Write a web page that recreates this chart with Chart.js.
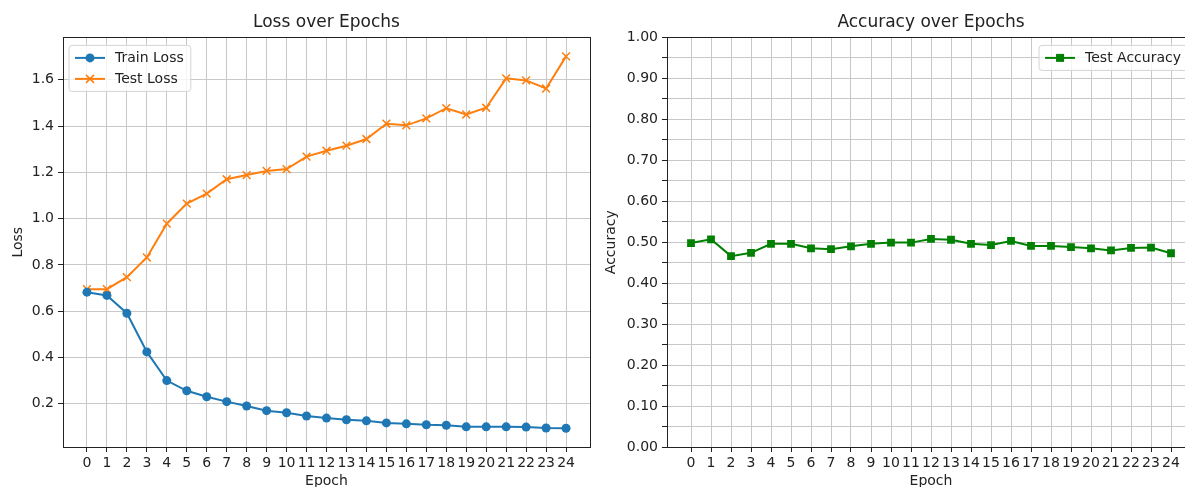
<!DOCTYPE html>
<html>
<head>
<meta charset="utf-8">
<script src="https://cdn.jsdelivr.net/npm/chart.js@4.4.1/dist/chart.umd.min.js"></script>
<style>
  html, body { margin: 0; padding: 0; background: #fff; overflow: hidden; width: 1185px; height: 487px; }
  .pane { position: absolute; top: 0; height: 487px; overflow: hidden; }
  #lossPane { left: 0; width: 600px; }
  #accPane { left: 600px; width: 585px; }
  canvas { display: block; }
</style>
</head>
<body>
<div class="pane" id="lossPane"><canvas id="lossCanvas" width="600" height="495"></canvas></div>
<div class="pane" id="accPane"><canvas id="accCanvas" width="605" height="495"></canvas></div>
<script>
// values
const epochs = [0, 1, 2, 3, 4, 5, 6, 7, 8, 9, 10, 11, 12, 13, 14, 15, 16, 17, 18, 19, 20, 21, 22, 23, 24];
const trainLoss = [0.682, 0.668, 0.591, 0.424, 0.300, 0.256, 0.230, 0.209, 0.190, 0.170, 0.161, 0.147, 0.138, 0.131, 0.126, 0.117, 0.113, 0.109, 0.107, 0.100, 0.100, 0.100, 0.099, 0.095, 0.094];
const testLoss = [0.695, 0.695, 0.747, 0.832, 0.978, 1.065, 1.108, 1.170, 1.188, 1.206, 1.214, 1.268, 1.293, 1.315, 1.344, 1.410, 1.403, 1.433, 1.477, 1.450, 1.479, 1.606, 1.597, 1.562, 1.701];
const testAcc = [0.498, 0.507, 0.466, 0.474, 0.496, 0.496, 0.485, 0.483, 0.490, 0.496, 0.499, 0.499, 0.508, 0.506, 0.496, 0.493, 0.503, 0.491, 0.491, 0.488, 0.485, 0.480, 0.486, 0.487, 0.473];
const lossTicks = [0.2, 0.4, 0.6, 0.8, 1.0, 1.2, 1.4, 1.6];
const accMajorTicks = [0.0, 0.1, 0.2, 0.3, 0.4, 0.5, 0.6, 0.7, 0.8, 0.9, 1.0];
const accMinorTicks = [0.05, 0.15, 0.25, 0.35, 0.45, 0.55, 0.65, 0.75, 0.85, 0.95];

Chart.defaults.font.family = '"DejaVu Sans", sans-serif';
Chart.defaults.font.size = 14;
Chart.defaults.color = '#222';

const GRID = '#c8c8c8';
const INK = '#222';

function pts(vals) {
  return epochs.map((e, i) => ({ x: e, y: vals[i] }));
}

// matplotlib-like box around the plot
const frame = {
  id: 'frame',
  afterDraw(chart) {
    const { ctx, chartArea: a } = chart;
    ctx.save();
    ctx.strokeStyle = INK;
    ctx.lineWidth = 1;
    ctx.strokeRect(Math.round(a.left) + 0.5, Math.round(a.top) + 0.5,
      Math.round(a.right - a.left), Math.round(a.bottom - a.top));
    ctx.restore();
  }
};

// legend with line through the marker, inside the plot
const boxLegend = {
  id: 'boxLegend',
  afterDraw(chart, args, opts) {
    const { ctx, chartArea } = chart;
    const sets = chart.data.datasets;
    ctx.save();
    ctx.font = '14px "DejaVu Sans"';
    const textW = Math.max(...sets.map(d => ctx.measureText(d.label).width));
    const w = 6 + 30 + 10 + textW + 7;
    const h = 25 + 21 * (sets.length - 1);
    const x = opts.side === 'right' ? chartArea.right - 7 - w : chartArea.left + 6;
    const y = chartArea.top + 8;
    ctx.beginPath();
    ctx.roundRect(x, y, w, h, 3);
    ctx.fillStyle = 'rgba(255,255,255,0.8)';
    ctx.fill();
    ctx.strokeStyle = '#d4d4d4';
    ctx.lineWidth = 1;
    ctx.stroke();
    sets.forEach((d, i) => {
      const cy = y + 12.5 + 21 * i;
      const x0 = x + 6;
      const mx = x0 + 15;
      ctx.strokeStyle = d.borderColor;
      ctx.fillStyle = d.borderColor;
      ctx.lineWidth = 2;
      ctx.beginPath();
      ctx.moveTo(x0, cy);
      ctx.lineTo(x0 + 30, cy);
      ctx.stroke();
      if (d.pointStyle === 'circle') {
        ctx.beginPath();
        ctx.arc(mx, cy, 4.5, 0, Math.PI * 2);
        ctx.fill();
      } else if (d.pointStyle === 'crossRot') {
        ctx.lineWidth = 1.5;
        ctx.beginPath();
        ctx.moveTo(mx - 4, cy - 4); ctx.lineTo(mx + 4, cy + 4);
        ctx.moveTo(mx - 4, cy + 4); ctx.lineTo(mx + 4, cy - 4);
        ctx.stroke();
      } else if (d.pointStyle === 'rect') {
        ctx.fillRect(mx - 4, cy - 4, 8, 8);
      }
      ctx.fillStyle = INK;
      ctx.textBaseline = 'middle';
      ctx.textAlign = 'left';
      ctx.fillText(d.label, x0 + 40, cy);
    });
    ctx.restore();
  }
};

function xAxis() {
  return {
    type: 'linear',
    min: -1.2,
    max: 25.2,
    afterBuildTicks: s => { s.ticks = epochs.map(v => ({ value: v })); },
    afterFit: s => { s.height = 48; },
    grid: { color: GRID, lineWidth: 1, drawTicks: true, tickLength: 5, tickColor: INK, tickWidth: 1 },
    border: { display: false },
    ticks: { autoSkip: false, maxRotation: 0, minRotation: 0, padding: 3, callback: v => String(v) },
    title: { display: true, text: 'Epoch', font: { size: 14 }, padding: { top: 0, bottom: 5 } }
  };
}

new Chart(document.getElementById('lossCanvas'), {
  type: 'line',
  data: {
    datasets: [
      {
        label: 'Train Loss',
        data: pts(trainLoss),
        borderColor: '#1f77b4',
        backgroundColor: '#1f77b4',
        borderWidth: 2,
        pointStyle: 'circle',
        pointRadius: 4.5,
        pointBorderWidth: 0,
        tension: 0
      },
      {
        label: 'Test Loss',
        data: pts(testLoss),
        borderColor: '#ff7f0e',
        backgroundColor: '#ff7f0e',
        borderWidth: 2,
        pointStyle: 'crossRot',
        pointRadius: 5.5,
        pointBorderWidth: 1.5,
        tension: 0
      }
    ]
  },
  options: {
    responsive: false,
    devicePixelRatio: 1,
    animation: false,
    layout: { padding: { left: 0, right: 10, top: 0, bottom: 0 } },
    plugins: {
      legend: { display: false },
      tooltip: { enabled: false },
      title: {
        display: true, text: 'Loss over Epochs', fullSize: false, color: INK,
        font: { size: 17, weight: 'normal' }, padding: { top: 12, bottom: 5 }
      },
      boxLegend: { side: 'left' }
    },
    scales: {
      x: xAxis(),
      y: {
        type: 'linear',
        min: 0.013,
        max: 1.783,
        afterBuildTicks: s => { s.ticks = lossTicks.map(v => ({ value: v })); },
        afterFit: s => { s.width = 63; },
        grid: { color: GRID, lineWidth: 1, drawTicks: true, tickLength: 5, tickColor: INK, tickWidth: 1 },
        border: { display: false },
        ticks: { padding: 4, callback: v => v.toFixed(1) },
        title: { display: true, text: 'Loss', font: { size: 14 }, padding: { top: 10, bottom: 0 } }
      }
    }
  },
  plugins: [frame, boxLegend]
});

new Chart(document.getElementById('accCanvas'), {
  type: 'line',
  data: {
    datasets: [
      {
        label: 'Test Accuracy',
        data: pts(testAcc),
        borderColor: '#008000',
        backgroundColor: '#008000',
        borderWidth: 2,
        pointStyle: 'rect',
        pointRadius: 5.5,
        pointBorderWidth: 0,
        tension: 0
      }
    ]
  },
  options: {
    responsive: false,
    devicePixelRatio: 1,
    animation: false,
    layout: { padding: { left: 0, right: 10, top: 0, bottom: 0 } },
    plugins: {
      legend: { display: false },
      tooltip: { enabled: false },
      title: {
        display: true, text: 'Accuracy over Epochs', fullSize: false, color: INK,
        font: { size: 17, weight: 'normal' }, padding: { top: 12, bottom: 5 }
      },
      boxLegend: { side: 'right' }
    },
    scales: {
      x: xAxis(),
      y: {
        type: 'linear',
        min: 0,
        max: 1,
        afterBuildTicks: s => {
          s.ticks = accMajorTicks.concat(accMinorTicks).sort((a, b) => a - b).map(v => ({ value: v }));
        },
        afterFit: s => { s.width = 67; },
        grid: { color: GRID, lineWidth: 1, drawTicks: true, tickLength: 5, tickColor: INK, tickWidth: 1 },
        border: { display: false },
        ticks: {
          padding: 4,
          callback: v => (accMajorTicks.some(m => Math.abs(m - v) < 1e-6) ? v.toFixed(2) : '')
        },
        title: { display: true, text: 'Accuracy', font: { size: 14 }, padding: { top: 3, bottom: 0 } }
      }
    }
  },
  plugins: [frame, boxLegend]
});
</script>
</body>
</html>
